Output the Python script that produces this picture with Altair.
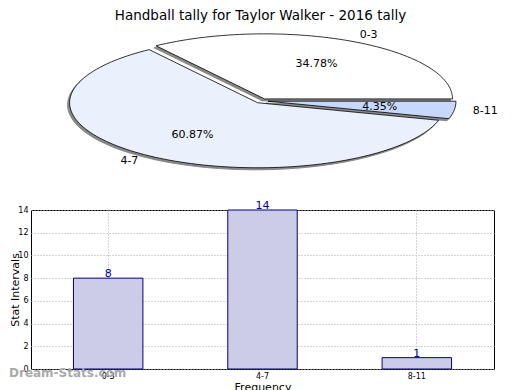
import altair as alt
import numpy as np
import pandas as pd

# ---- data ----
categories = ["0-3", "4-7", "8-11"]
values = [8, 14, 1]
pie_colors = ["#ffffff", "#eaf0fc", "#c6d9fd"]
explode = [0.035, 0.035, 0.035]
title_text = "Handball tally for Taylor Walker - 2016 tally"
y_ticks = [0, 2, 4, 6, 8, 10, 12, 14]

# ---- derive pie geometry from the values (unit circle, stretched by the scales) ----
total = float(sum(values))
fracs = [v / total for v in values]
rows, lab_rows = [], []
start = 0.0
for cat, f, ex in zip(categories, fracs, explode):
    a0, a1 = start * 2 * np.pi, (start + f) * 2 * np.pi
    mid = (a0 + a1) / 2
    ox, oy = ex * np.cos(mid), ex * np.sin(mid)
    angs = np.linspace(a0, a1, max(3, int(f * 200)))
    pts = [(ox, oy)] + [(ox + np.cos(a), oy + np.sin(a)) for a in angs] + [(ox, oy)]
    for i, (px, py) in enumerate(pts):
        rows.append({"cat": cat, "i": i, "px": px, "py": py})
    lab_rows.append({
        "cat": cat,
        "lx": ox + 1.1 * np.cos(mid), "ly": oy + 1.1 * np.sin(mid),
        "tx": ox + 0.6 * np.cos(mid), "ty": oy + 0.6 * np.sin(mid),
        "pct": f"{f*100:.2f}%",
        "side": "right" if np.cos(mid) >= 0 else "left",
    })
    start += f
poly = pd.DataFrame(rows)
labs = pd.DataFrame(lab_rows)
bars_df = pd.DataFrame({"cat": categories, "val": values})

FONT = "DejaVu Sans"
xs = alt.Scale(domain=[-1.2255, 1.274])
ys = alt.Scale(domain=[-1.309, 1.152])

base = alt.Chart(poly).encode(
    x=alt.X("px:Q", scale=xs, axis=None),
    y=alt.Y("py:Q", scale=ys, axis=None),
    order=alt.Order("i:Q"),
    detail="cat:N",
)
shadow = base.mark_line(fill="#888888", stroke="#888888", strokeWidth=1, xOffset=-2, yOffset=2)
slices = base.mark_line(stroke="black", strokeWidth=0.8).encode(
    fill=alt.Fill("cat:N", scale=alt.Scale(domain=categories, range=pie_colors), legend=None)
)
lbase = alt.Chart(labs)
cat_r = lbase.transform_filter("datum.side == 'right'").mark_text(
    align="left", baseline="middle", fontSize=11, font=FONT, color="black"
).encode(x=alt.X("lx:Q", scale=xs, axis=None), y=alt.Y("ly:Q", scale=ys, axis=None), text="cat:N")
cat_l = lbase.transform_filter("datum.side == 'left'").mark_text(
    align="right", baseline="middle", fontSize=11, font=FONT, color="black"
).encode(x=alt.X("lx:Q", scale=xs, axis=None), y=alt.Y("ly:Q", scale=ys, axis=None), text="cat:N")
pct = lbase.mark_text(align="center", baseline="middle", fontSize=11, font=FONT, color="black").encode(
    x=alt.X("tx:Q", scale=xs, axis=None), y=alt.Y("ty:Q", scale=ys, axis=None), text="pct:N"
)
ttl = alt.Chart(pd.DataFrame({"t": [title_text]})).mark_text(
    align="center", baseline="alphabetic", fontSize=13.5, font=FONT, color="black"
).encode(x=alt.value(229.5), y=alt.value(-6), text="t:N")
pie = alt.layer(shadow, slices, cat_r, cat_l, pct, ttl).properties(
    width=470, height=160, view=alt.ViewBackground(stroke="transparent")
)

# ---- bar chart ----
xb = alt.X(
    "cat:N", sort=categories,
    scale=alt.Scale(paddingInner=0.55, paddingOuter=0.275),
    axis=alt.Axis(title="Frequency", labelAngle=0, labelFontSize=8, labelFont=FONT,
                  titleFont=FONT, titleFontSize=11, titleFontWeight="normal",
                  grid=True, gridDash=[1, 2], gridColor="#aaaaaa", bandPosition=0.5,
                  domain=False, ticks=False, labelColor="black", labelPadding=3, titlePadding=1),
)
yb = alt.Y(
    "val:Q", scale=alt.Scale(domain=[0, 14], nice=False),
    axis=alt.Axis(title="Stat Intervals", values=y_ticks, labelFontSize=8, labelFont=FONT,
                  titleFont=FONT, titleFontSize=11, titleFontWeight="normal",
                  grid=True, gridDash=[1, 2], gridColor="#aaaaaa", domain=False,
                  ticks=False, labelColor="black", labelPadding=3, titlePadding=1,
                  minExtent=10, maxExtent=10),
)
bb = alt.Chart(bars_df).encode(x=xb, y=yb)
bars = bb.mark_bar(fill="#ccccE6", stroke="#000080", strokeWidth=1)
btxt = bb.mark_text(baseline="bottom", dy=1, fontSize=11, font=FONT, color="#000099").encode(text="val:Q")
wm = alt.Chart(pd.DataFrame({"t": ["Dream-Stats.com"]})).mark_text(
    align="left", baseline="middle", fontSize=12, font=FONT, color="#aaaaaa", fontWeight="bold"
).encode(x=alt.value(-22), y=alt.value(163), text="t:N")
bar = alt.layer(bars, btxt, wm).properties(width=463, height=159)

chart = alt.vconcat(pie, bar, spacing=12).properties(
    padding={"left": 0, "top": 0, "right": 0, "bottom": 0},
).configure_view(stroke="black", strokeWidth=1)

chart.save("out.html", embed_options={"renderer": "svg", "actions": False})
